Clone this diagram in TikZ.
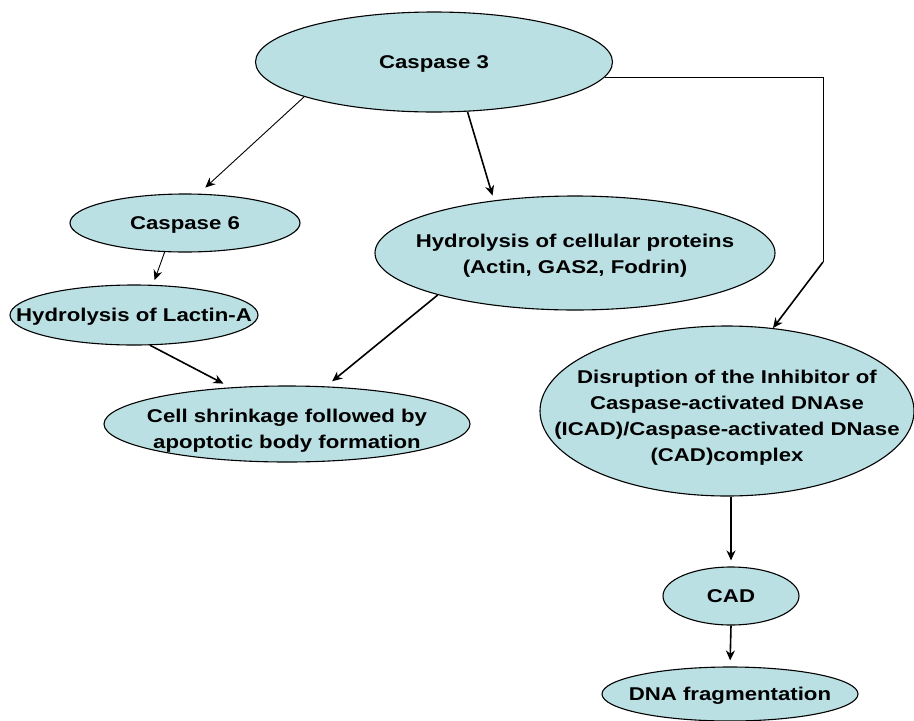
\documentclass[tikz,border=0pt]{standalone}
\usepackage{fontspec}
\setmainfont{Liberation Sans}[FakeStretch=1.2]
\usetikzlibrary{shapes.geometric,arrows.meta}
\definecolor{paleteal}{RGB}{187,224,228}
\newcommand{\padtop}[1]{\rule{0pt}{#1}}
\tikzset{
  blob/.style={ellipse, draw, line width=1.1pt, fill=paleteal, inner sep=-60pt,
    align=center, font=\fontsize{18.5}{26}\selectfont\bfseries,
    text height=13pt, text depth=-5pt},
  tallblob/.style={blob, text height=, text depth=},
  thinarr/.style={-{Stealth[length=10pt,width=9pt]}, line width=0.9pt},
  thickarr/.style={-{Stealth[length=10pt,width=9pt]}, line width=1.6pt}
}
\begin{document}
\begin{tikzpicture}[x=1pt,y=-1pt]
  \useasboundingbox (0,0) rectangle (914,721);
  % caspase cascade
  \node[blob, minimum width=357pt, minimum height=100pt] (casp3) at (434,62) {Caspase 3};
  \node[blob, minimum width=230pt, minimum height=58pt] (casp6) at (185,223) {Caspase 6};
  \node[blob, minimum width=248pt, minimum height=60pt] (lamin) at (134,315) {Hydrolysis of Lactin-A};
  \node[tallblob, minimum width=400pt, minimum height=114pt] (prot) at (575,253)
    {\padtop{18pt}Hydrolysis of cellular proteins\\(Actin, GAS2, Fodrin)};
  \node[tallblob, minimum width=366pt, minimum height=76pt] (shrink) at (287,424)
    {\padtop{27pt}Cell shrinkage followed by\\apoptotic body formation};
  \node[tallblob, minimum width=374pt, minimum height=170pt] (icad) at (727,411)
    {\padtop{26pt}Disruption of the Inhibitor of\\Caspase-activated DNAse\\(ICAD)/Caspase-activated DNase\\(CAD)complex};
  \node[blob, minimum width=136pt, minimum height=58pt] (cad) at (731,596) {CAD};
  \node[blob, minimum width=256pt, minimum height=54pt] (dna) at (730,694) {DNA fragmentation};
  \coordinate (elbow) at (823,262);
  % arrows
  \draw[thinarr, shorten >=9pt] (casp3.195) -- (casp6.65);
  \draw[thickarr, shorten >=5pt] (casp3.-56) -- (prot.147);
  \draw[thinarr, shorten >=5pt] (casp6.-125) -- (lamin.58);
  \draw[thickarr, shorten >=8pt] (lamin.-62) -- (shrink.147);
  \draw[thickarr, shorten >=8pt] (prot.197) -- (shrink.44);
  \draw[line width=0.9pt] (casp3.-5) -- (casp3.-5 -| elbow) -- (elbow);
  \draw[thickarr] (elbow) -- (icad.61);
  \draw[thickarr, shorten >=6pt] (icad.south -| cad.north) -- (cad.north);
  \draw[thickarr, shorten >=6pt] (cad.south) -- (dna.north);
\end{tikzpicture}
\end{document}
